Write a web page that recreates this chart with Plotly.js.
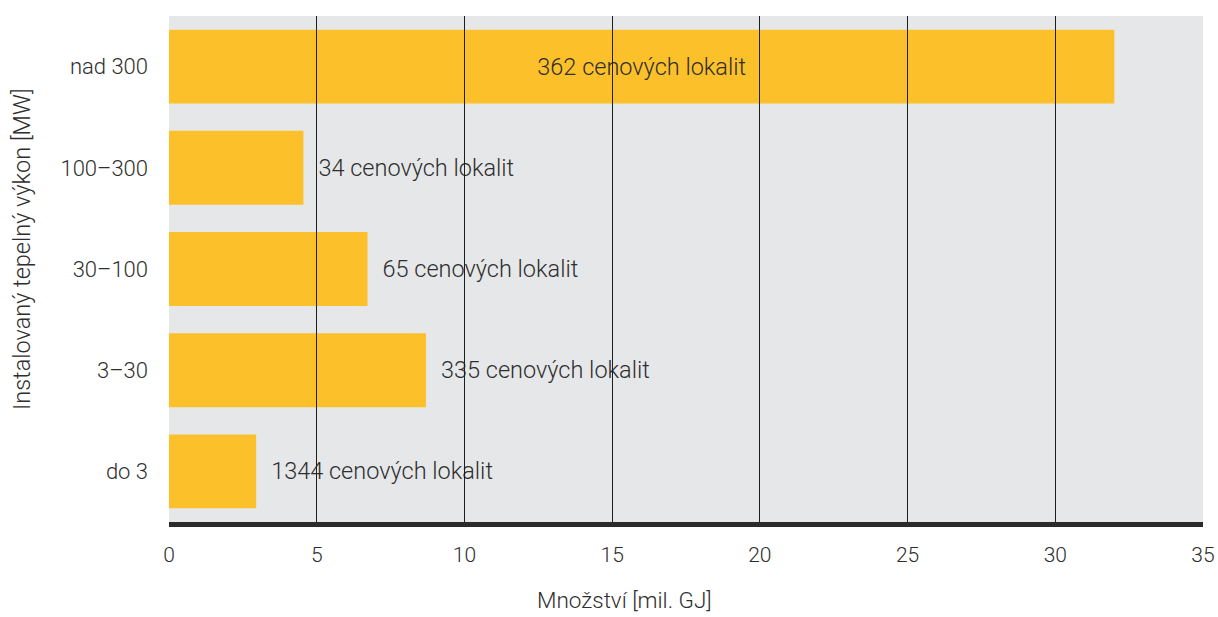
<!DOCTYPE html>
<html>
<head>
<meta charset="utf-8">
<script src="https://cdn.plot.ly/plotly-3.0.1.min.js"></script>
<style>html,body{margin:0;padding:0;background:#fff;}#chart{width:1218px;height:617px;}</style>
</head>
<body>
<div id="chart"></div>
<script>
const categories = ["do 3", "3–30", "30–100", "100–300", "nad 300"];
const values = [2.95, 8.7, 6.72, 4.55, 32.0];
const labels = ["1344 cenových lokalit", "335 cenových lokalit", "65 cenových lokalit", "34 cenových lokalit", "362 cenových lokalit"];
const xTicks = [0, 5, 10, 15, 20, 25, 30, 35];
const xTitle = "Množství [mil. GJ]";
const yTitle = "Instalovaný tepelný výkon [MW]";

const fontFam = "Roboto, 'Noto Sans', sans-serif";
const txtColor = "#2e2e2e";
const fnt = (s) => ({family: fontFam, size: s, color: txtColor, weight: 300});

const positions = ["outside", "outside", "outside", "outside", "inside"];

const trace = {
  type: "bar",
  orientation: "h",
  y: categories,
  x: values,
  text: labels.map((l, i) => positions[i] === "outside" ? "\u2002" + l : l),
  textposition: positions,
  insidetextanchor: "middle",
  textfont: fnt(23.5),
  outsidetextfont: fnt(23.5),
  insidetextfont: fnt(23.5),
  constraintext: "none",
  cliponaxis: false,
  marker: {color: "#fcc12a", line: {width: 0}},
  hoverinfo: "skip"
};

const layout = {
  width: 1218,
  height: 617,
  margin: {l: 169, r: 15, t: 16, b: 95},
  paper_bgcolor: "#ffffff",
  plot_bgcolor: "#e6e7e9",
  bargap: 0.27,
  showlegend: false,
  font: fnt(21),
  xaxis: {
    range: [0, 35],
    tickvals: xTicks,
    ticktext: xTicks.map(String),
    showgrid: false,
    zeroline: false,
    ticks: "inside",
    ticklen: 506,
    tickwidth: 1,
    tickcolor: "#1e1e1e",
    layer: "above traces",
    showline: true,
    linecolor: "#2b2b2b",
    linewidth: 5,
    ticklabelstandoff: 10,
    tickfont: fnt(21),
    fixedrange: true
  },
  yaxis: {
    categoryorder: "array",
    categoryarray: categories,
    showgrid: false,
    zeroline: false,
    showline: false,
    ticks: "",
    ticklabelstandoff: 20,
    tickfont: fnt(22),
    fixedrange: true
  },
  annotations: [
    {text: xTitle, xref: "paper", yref: "paper", x: 0.5, y: 0, xanchor: "center", yanchor: "top", xshift: -62, yshift: -63,
     showarrow: false, font: fnt(22.5)},
    {text: yTitle, xref: "paper", yref: "paper", x: 0, y: 0.5, xanchor: "center", yanchor: "middle", xshift: -147, yshift: 20,
     textangle: -90, showarrow: false, font: fnt(23.5)}
  ]
};

Plotly.newPlot("chart", [trace], layout, {displayModeBar: false, staticPlot: true});
</script>
</body>
</html>
